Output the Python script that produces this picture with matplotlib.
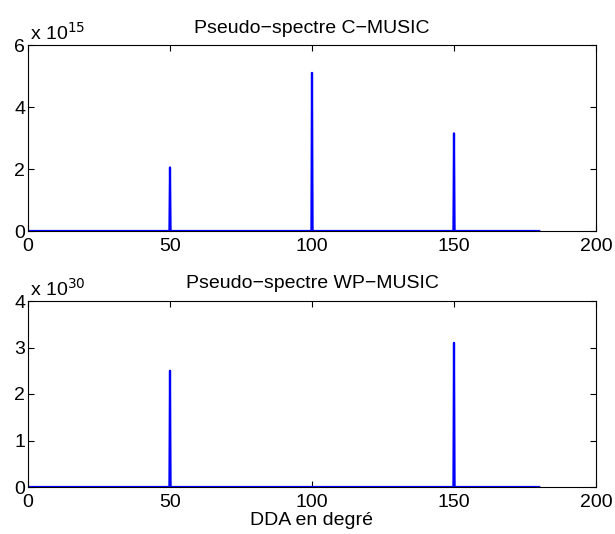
import matplotlib
matplotlib.use("Agg")
import matplotlib.pyplot as plt

plt.rcParams['font.family'] = ['Liberation Sans', 'DejaVu Sans']

# pseudo-spectrum (angle in degrees, amplitude)
doa_c = [0, 49.8, 50.0, 50.2, 99.8, 100.0, 100.2, 149.8, 150.0, 150.2, 180]
spec_c = [0, 0, 2.05e15, 0, 0, 5.1e15, 0, 0, 3.15e15, 0, 0]

doa_wp = [0, 49.8, 50.0, 50.2, 149.8, 150.0, 150.2, 180]
spec_wp = [0, 0, 2.5e30, 0, 0, 3.1e30, 0, 0]

titles = ['Pseudo\u2212spectre C\u2212MUSIC', 'Pseudo\u2212spectre WP\u2212MUSIC']
exps = [15, 30]
ymax = [6, 4]
yticks = [[0, 2, 4, 6], [0, 1, 2, 3, 4]]
xticks = [0, 50, 100, 150, 200]

fig = plt.figure(figsize=(6.15, 5.34), dpi=100)
W, H = 615, 534
boxes = [(28, 45, 596, 231), (28, 301, 596, 487)]

data = [(doa_c, spec_c), (doa_wp, spec_wp)]
for i in range(2):
    x0, y0, x1, y1 = boxes[i]
    ax = fig.add_axes([x0 / W, 1 - y1 / H, (x1 - x0) / W, (y1 - y0) / H])
    x, y = data[i]
    scale = 10.0 ** exps[i]
    ax.plot(x, [v / scale for v in y], color=(0, 0, 1), lw=1.6)
    ax.set_xlim(0, 200)
    ax.set_ylim(0, ymax[i])
    ax.set_xticks(xticks)
    ax.set_yticks(yticks[i])
    ax.tick_params(direction='in', top=True, right=True, length=4,
                   labelsize=14, width=0.8)
    ax.tick_params(axis='x', pad=5)
    ax.tick_params(axis='y', pad=2)
    for s in ax.spines.values():
        s.set_linewidth(0.8)
    ax.set_title(titles[i], fontsize=14, pad=9)
    ax.text(0.003, 1.005, 'x 10$^{%d}$' % exps[i], transform=ax.transAxes,
            fontsize=14, ha='left', va='bottom')
    if i == 1:
        ax.set_xlabel('DDA en degr\u00e9', fontsize=14, labelpad=1)

fig.savefig('out.png', dpi=100)
